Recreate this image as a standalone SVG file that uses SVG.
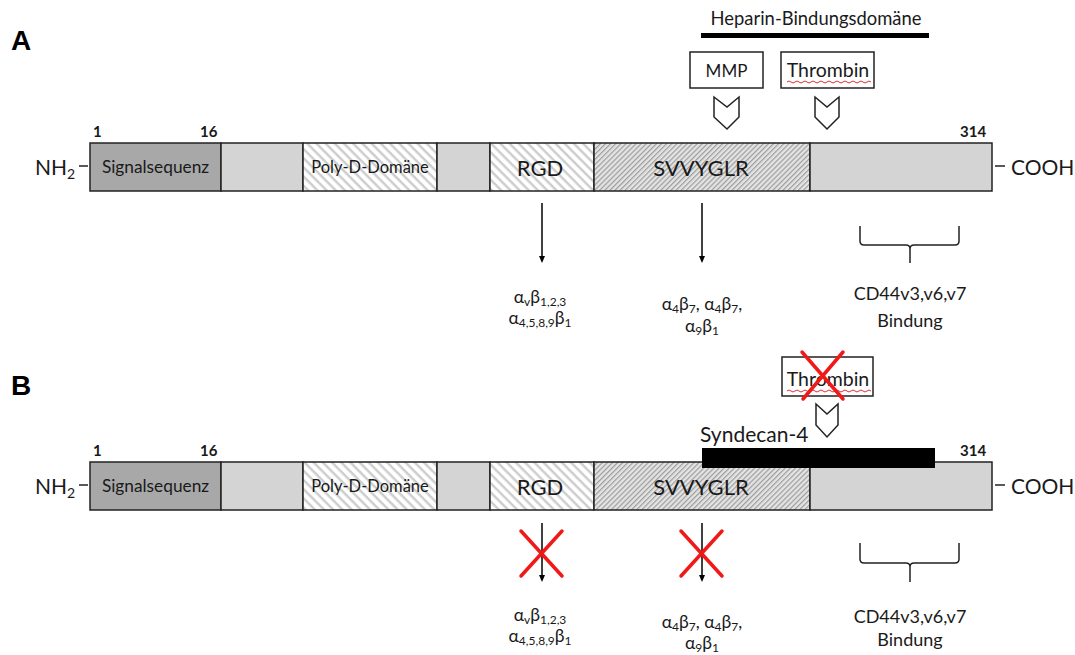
<svg xmlns="http://www.w3.org/2000/svg" width="1075" height="655" viewBox="0 0 1075 655">
<defs>
<pattern id="hLight" patternUnits="userSpaceOnUse" width="6.5" height="6.5" patternTransform="rotate(45)">
<rect width="6.5" height="6.5" fill="#ffffff"/>
<rect width="6.5" height="2.4" fill="#cdcdcd"/>
</pattern>
<pattern id="hDense" patternUnits="userSpaceOnUse" width="3.6" height="3.6" patternTransform="rotate(-45)">
<rect width="3.6" height="3.6" fill="#e4e4e4"/>
<rect width="3.6" height="1.2" fill="#9c9c9c"/>
</pattern>
<style>
text{font-family:Lato,"Open Sans","Liberation Sans",sans-serif;fill:#1a1a1a}
.seg{stroke:#222;stroke-width:1.5}
.dk{fill:#a8a8a8}
.gr{fill:#d4d4d4}
.lbl{font-size:22px;text-anchor:middle}
.num{font-size:15px;font-weight:bold}
.end{font-size:21px}
.gk{font-size:17.5px;text-anchor:middle}
.sb{font-size:12px}
.cd{font-size:18px;text-anchor:middle}
.box{fill:#fff;stroke:#222;stroke-width:1.5}
.chev{fill:#fff;stroke:#222;stroke-width:1.5}
.ar{stroke:#000;stroke-width:1.5;fill:none}
.ah{fill:#000}
.br{stroke:#222;stroke-width:1.5;fill:none}
.rx{stroke:#f01818;stroke-width:3.5;stroke-linecap:round}
.wav{stroke:#e03030;stroke-width:1;fill:none}
.dash{stroke:#222;stroke-width:1.5}
.pl{font-size:28px;font-weight:bold;font-family:"Liberation Sans",Arial,sans-serif;fill:#000}
</style>
</defs>

<!-- Panel A -->
<g id="panelA">
<text class="pl" x="11" y="50">A</text>
<g id="A-heparin">
<text x="816" y="25" font-size="18.4" text-anchor="middle">Heparin-Bindungsdomäne</text>
<rect x="701" y="33" width="228" height="5" fill="#000"/>
</g>
<g id="A-mmp">
<rect class="box" x="690" y="52" width="73" height="36"/>
<text x="726.5" y="77" font-size="17" text-anchor="middle">MMP</text>
<path class="chev" d="M714,97 L727,107 L739,97 L739,117 L727,129 L714,117 Z"/>
</g>
<g id="A-thrombin">
<rect class="box" x="781" y="52" width="93" height="36"/>
<text x="828" y="77" font-size="19.5" text-anchor="middle">Thrombin</text>
<path class="wav" d="M787,82 q2,-2 4,0 t4,0 t4,0 t4,0 t4,0 t4,0 t4,0 t4,0 t4,0 t4,0 t4,0 t4,0 t4,0 t4,0 t4,0 t4,0 t4,0 t4,0 t4,0 t4,0 t4,0"/>
<path class="chev" d="M815,97 L827,107 L839,97 L839,117 L827,129 L815,117 Z"/>
</g>
<g id="A-bar">
<text class="num" x="93" y="137">1</text>
<text class="num" x="200" y="137">16</text>
<text class="num" x="960" y="137">314</text>
<text class="end" x="35" y="175">NH<tspan font-size="14" dy="4">2</tspan></text>
<line class="dash" x1="79" y1="166" x2="88" y2="166"/>
<rect class="seg dk" x="90" y="143" width="131" height="48"/>
<rect class="seg gr" x="221" y="143" width="82" height="48"/>
<rect class="seg" fill="url(#hLight)" x="303" y="143" width="134" height="48"/>
<rect class="seg gr" x="437" y="143" width="53" height="48"/>
<rect class="seg" fill="url(#hLight)" x="490" y="143" width="104" height="48"/>
<rect class="seg" fill="url(#hDense)" x="594" y="143" width="216" height="48"/>
<rect class="seg gr" x="810" y="143" width="182" height="48"/>
<text x="155.5" y="173" font-size="17.3" text-anchor="middle">Signalsequenz</text>
<text x="370" y="173" font-size="16.5" text-anchor="middle">Poly-D-Domäne</text>
<text class="lbl" x="540" y="176">RGD</text>
<text class="lbl" x="701" y="176">SVVYGLR</text>
<line class="dash" x1="995" y1="166" x2="1005" y2="166"/>
<text class="end" x="1011" y="175">COOH</text>
</g>
<g id="A-connectors">
<line class="ar" x1="542" y1="203" x2="542" y2="257"/>
<path class="ah" d="M539,256 L545,256 L542,263 Z"/>
<line class="ar" x1="702" y1="203" x2="702" y2="257"/>
<path class="ah" d="M699,256 L705,256 L702,263 Z"/>
<path class="br" d="M860,226 L860,241 Q860,245 864,245 L906,245 Q910,245 910,249 L910,263 M910,249 Q910,245 914,245 L955,245 Q959,245 959,241 L959,226"/>
</g>
<g id="A-labels">
<text class="gk" x="540" y="303">α<tspan class="sb" dy="3">v</tspan><tspan dy="-3">β</tspan><tspan class="sb" dy="3">1,2,3</tspan></text>
<text class="gk" x="540" y="324">α<tspan class="sb" dy="3">4,5,8,9</tspan><tspan dy="-3">β</tspan><tspan class="sb" dy="3">1</tspan></text>
<text class="gk" x="702" y="310">α<tspan class="sb" dy="3">4</tspan><tspan dy="-3">β</tspan><tspan class="sb" dy="3">7</tspan><tspan dy="-3">, α</tspan><tspan class="sb" dy="3">4</tspan><tspan dy="-3">β</tspan><tspan class="sb" dy="3">7</tspan><tspan dy="-3">,</tspan></text>
<text class="gk" x="702" y="332">α<tspan class="sb" dy="3">9</tspan><tspan dy="-3">β</tspan><tspan class="sb" dy="3">1</tspan></text>
<text class="cd" x="910" y="300">CD44v3,v6,v7</text>
<text class="cd" x="910" y="327">Bindung</text>
</g>
</g>

<!-- Panel B -->
<g id="panelB">
<text class="pl" x="11" y="395">B</text>
<g id="B-thrombin">
<rect class="box" x="782" y="357" width="91" height="39"/>
<text x="828" y="386" font-size="19.5" text-anchor="middle">Thrombin</text>
<path class="wav" d="M787,391 q2,-2 4,0 t4,0 t4,0 t4,0 t4,0 t4,0 t4,0 t4,0 t4,0 t4,0 t4,0 t4,0 t4,0 t4,0 t4,0 t4,0 t4,0 t4,0 t4,0 t4,0 t4,0"/>
<line class="rx" x1="802" y1="352" x2="843" y2="399"/>
<line class="rx" x1="843" y1="352" x2="803" y2="399"/>
<path class="chev" d="M816,404 L827,414 L838,404 L838,425 L827,437 L816,425 Z"/>
</g>
<g id="B-bar">
<text class="num" x="93" y="456">1</text>
<text class="num" x="200" y="456">16</text>
<text class="num" x="960" y="456">314</text>
<text class="end" x="35" y="494">NH<tspan font-size="14" dy="4">2</tspan></text>
<line class="dash" x1="79" y1="485" x2="88" y2="485"/>
<rect class="seg dk" x="90" y="462" width="131" height="48"/>
<rect class="seg gr" x="221" y="462" width="82" height="48"/>
<rect class="seg" fill="url(#hLight)" x="303" y="462" width="134" height="48"/>
<rect class="seg gr" x="437" y="462" width="53" height="48"/>
<rect class="seg" fill="url(#hLight)" x="490" y="462" width="104" height="48"/>
<rect class="seg" fill="url(#hDense)" x="594" y="462" width="216" height="48"/>
<rect class="seg gr" x="810" y="462" width="182" height="48"/>
<text x="155.5" y="492" font-size="17.3" text-anchor="middle">Signalsequenz</text>
<text x="370" y="492" font-size="16.5" text-anchor="middle">Poly-D-Domäne</text>
<text class="lbl" x="540" y="495">RGD</text>
<text class="lbl" x="701" y="495">SVVYGLR</text>
<line class="dash" x1="995" y1="485" x2="1005" y2="485"/>
<text class="end" x="1011" y="494">COOH</text>
</g>
<g id="B-syndecan">
<text x="700" y="442" font-size="21">Syndecan-4</text>
<rect x="702" y="448" width="233" height="20" fill="#000"/>
</g>
<g id="B-connectors">
<line class="ar" x1="542" y1="523" x2="542" y2="576"/>
<path class="ah" d="M539,575 L545,575 L542,582 Z"/>
<line class="ar" x1="702" y1="523" x2="702" y2="576"/>
<path class="ah" d="M699,575 L705,575 L702,582 Z"/>
<line class="rx" x1="521" y1="531" x2="562" y2="576"/>
<line class="rx" x1="562" y1="531" x2="521" y2="576"/>
<line class="rx" x1="681" y1="531" x2="722" y2="576"/>
<line class="rx" x1="722" y1="531" x2="681" y2="576"/>
<path class="br" d="M860,543 L860,559 Q860,563 864,563 L906,563 Q910,563 910,567 L910,582 M910,567 Q910,563 914,563 L955,563 Q959,563 959,559 L959,543"/>
</g>
<g id="B-labels">
<text class="gk" x="540" y="621">α<tspan class="sb" dy="3">v</tspan><tspan dy="-3">β</tspan><tspan class="sb" dy="3">1,2,3</tspan></text>
<text class="gk" x="540" y="642">α<tspan class="sb" dy="3">4,5,8,9</tspan><tspan dy="-3">β</tspan><tspan class="sb" dy="3">1</tspan></text>
<text class="gk" x="702" y="628">α<tspan class="sb" dy="3">4</tspan><tspan dy="-3">β</tspan><tspan class="sb" dy="3">7</tspan><tspan dy="-3">, α</tspan><tspan class="sb" dy="3">4</tspan><tspan dy="-3">β</tspan><tspan class="sb" dy="3">7</tspan><tspan dy="-3">,</tspan></text>
<text class="gk" x="702" y="649">α<tspan class="sb" dy="3">9</tspan><tspan dy="-3">β</tspan><tspan class="sb" dy="3">1</tspan></text>
<text class="cd" x="910" y="623">CD44v3,v6,v7</text>
<text class="cd" x="910" y="646">Bindung</text>
</g>
</g>
</svg>
